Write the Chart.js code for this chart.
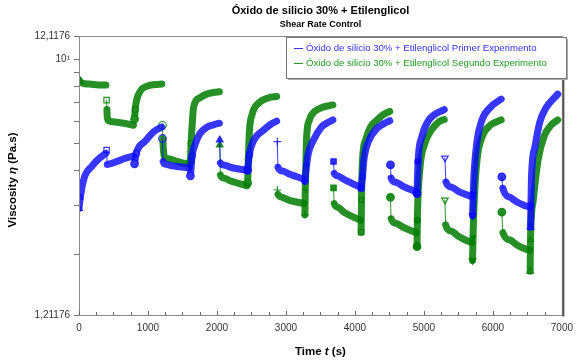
<!DOCTYPE html>
<html>
<head>
<meta charset="utf-8">
<script src="https://cdn.jsdelivr.net/npm/chart.js@4.4.1/dist/chart.umd.min.js"></script>
<style>
  html, body { margin: 0; padding: 0; background: #fff; }
</style>
</head>
<body>
<canvas id="grafico" width="580" height="363"></canvas>
<script>
// === TEXTOS ===
const titulo = "Óxido de silicio 30% + Etilenglicol";
const subtitulo = "Shear Rate Control";
const nomes = [
  "Óxido de silicio 30% + Etilenglicol Primer Experimento",
  "Óxido de silicio 30% + Etilenglicol Segundo Experimento"
];

// === EIXOS ===
const yMin = 1.21176;
const yMax = 12.1176;
const yMinorTicks = [2, 3, 4, 5, 6, 7, 8, 9, 10];
const yLabels = { "1.21176": "1,21176", "10": "10\u00B9", "12.1176": "12,1176" };
const xMax = 7000;
const xStep = 250;

// === DADOS: [tempo (s), viscosidade (Pa.s)] por etapa ===
const primer = [
  [[0,2.92],[20,3.2],[40,3.45],[90,3.85],[180,4.12],[270,4.36],[390,4.6]],
  [[400,4.73],[410,4.2],[450,4.22],[550,4.3],[650,4.4],[790,4.5]],
  [[805,4.22],[830,4.6],[870,4.85],[950,5.06],[1080,5.49],[1200,5.72]],
  [[1210,5.2],[1220,4.3],[1260,4.2],[1350,4.15],[1450,4.12],[1600,4.08]],
  [[1615,3.82],[1640,4.5],[1680,4.93],[1750,5.4],[1850,5.7],[1950,5.82],[2035,5.9]],
  [[2040,5.14],[2050,4.25],[2100,4.18],[2200,4.1],[2300,4.05],[2435,4.0]],
  [[2445,4.0],[2470,4.55],[2500,4.9],[2560,5.25],[2680,5.58],[2780,5.85],[2865,6.0]],
  [[2875,5.07],[2885,4.1],[2950,3.98],[3050,3.88],[3150,3.8],[3260,3.72]],
  [[3275,3.65],[3300,4.2],[3325,4.6],[3400,5.14],[3510,5.7],[3600,5.92],[3680,6.06]],
  [[3690,4.3],[3700,3.9],[3750,3.82],[3850,3.7],[3950,3.6],[4080,3.48]],
  [[4090,3.45],[4110,3.8],[4130,4.36],[4200,5.1],[4320,5.65],[4420,5.88],[4505,6.02]],
  [[4515,4.18],[4525,3.75],[4600,3.62],[4700,3.5],[4800,3.42],[4890,3.35]],
  [[4900,3.3],[4915,4.3],[4970,5.28],[5060,6.0],[5160,6.35],[5295,6.6]],
  [[5305,4.43],[5320,3.63],[5400,3.48],[5500,3.36],[5600,3.28],[5695,3.21]],
  [[5705,2.75],[5715,3.3],[5730,4.0],[5770,5.1],[5840,6.05],[5970,6.75],[6120,7.2]],
  [[6130,3.79],[6145,3.45],[6250,3.2],[6350,3.08],[6450,3.0],[6535,2.95]],
  [[6545,2.5],[6552,3.0],[6560,3.8],[6610,4.86],[6680,5.95],[6770,6.7],[6940,7.5]]
];

const segundo = [
  [[0,8.45],[20,8.3],[60,8.2],[150,8.15],[250,8.1],[390,8.08]],
  [[400,7.14],[405,6.6],[410,6.2],[430,6.02],[550,5.95],[650,5.9],[790,5.8]],
  [[805,6.1],[815,6.6],[830,7.05],[890,7.7],[980,8.0],[1100,8.12],[1200,8.15]],
  [[1210,5.8],[1215,5.2],[1225,4.7],[1240,4.45],[1300,4.4],[1400,4.32],[1500,4.25],[1600,4.2]],
  [[1615,4.3],[1625,5.0],[1640,5.8],[1660,6.7],[1750,7.27],[1850,7.5],[1950,7.6],[2035,7.65]],
  [[2040,4.93],[2050,3.85],[2100,3.75],[2200,3.66],[2300,3.6],[2435,3.52]],
  [[2445,3.6],[2455,4.4],[2470,5.5],[2510,6.35],[2600,6.95],[2750,7.28],[2865,7.35]],
  [[2875,3.4],[2885,3.28],[2950,3.2],[3050,3.12],[3150,3.08],[3260,3.04]],
  [[3275,2.77],[3280,3.4],[3290,4.36],[3300,5.28],[3340,6.05],[3370,6.31],[3510,6.7],[3680,6.86]],
  [[3690,3.46],[3700,3.04],[3750,2.95],[3850,2.82],[3950,2.74],[4080,2.65]],
  [[4090,2.4],[4095,3.13],[4110,4.36],[4155,5.14],[4230,5.74],[4320,6.06],[4420,6.35],[4505,6.5]],
  [[4515,3.2],[4525,2.68],[4600,2.58],[4700,2.5],[4800,2.44],[4890,2.39]],
  [[4900,2.13],[4905,2.65],[4940,4.0],[5015,5.0],[5110,5.58],[5230,6.0],[5295,6.08]],
  [[5305,3.13],[5315,2.55],[5400,2.42],[5500,2.32],[5600,2.25],[5695,2.2]],
  [[5705,1.9],[5712,2.3],[5730,3.13],[5770,4.36],[5845,5.28],[5965,5.81],[6120,6.06]],
  [[6130,2.83],[6145,2.39],[6250,2.25],[6350,2.16],[6450,2.1],[6535,2.07]],
  [[6540,1.74],[6545,2.25],[6585,3.13],[6655,4.36],[6750,5.35],[6845,5.81],[6940,6.06]]
];

// === MARCADORES POR ETAPA ===
const marcadores = ["triangle","rect","circle","circle","circle","triangle","circle","cross","cross",
                    "rect","rect","circle","circle","triangle","triangle","circle","triangle"];
const preenchidos = [false,false,false,false,false,true,false,false,false,
                     true,false,true,true,false,true,true,false];
const rotacoes = [0,0,0,0,0,0,0,0,0,0,0,0,0,180,180,0,0];

const cores = ["rgba(10,10,255,0.82)", "rgba(0,125,0,0.85)"];

// === MONTA DATASET COM INTERRUPÇÕES ENTRE ETAPAS ===
function montarSerie(etapas, nome, cor, ordem) {
  const data = [], estilo = [], raio = [], rot = [], fundo = [];
  const finos = new Set();
  etapas.forEach((pontos, k) => {
    pontos.forEach((p, i) => {
      if (i === 0 && k % 2 === 1) finos.add(data.length);
      data.push({ x: p[0], y: p[1] });
      estilo.push(marcadores[k]);
      raio.push(i === 0 ? 3.8 : (k % 2 === 0 && i < 2 ? 3 : 0));
      rot.push(rotacoes[k]);
      fundo.push(preenchidos[k] ? cor : "rgba(255,255,255,0)");
    });
    const ultimo = pontos[pontos.length - 1][0];
    data.push({ x: ultimo + 1, y: null });
    estilo.push("circle"); raio.push(0); rot.push(0); fundo.push(cor);
  });
  return {
    label: nome,
    order: ordem,
    data,
    borderColor: cor,
    backgroundColor: cor,
    borderWidth: 7,
    borderCapStyle: "round",
    borderJoinStyle: "round",
    cubicInterpolationMode: "monotone",
    spanGaps: false,
    pointStyle: estilo,
    pointRadius: raio,
    pointRotation: rot,
    pointBackgroundColor: fundo,
    pointBorderColor: cor,
    pointBorderWidth: 1.2,
    segment: {
      borderWidth: ctx => finos.has(ctx.p0DataIndex) ? 1 : undefined
    }
  };
}

const fonte = "'Liberation Sans', Arial, sans-serif";

// === DESENHO DE TÍTULOS, MOLDURA E LEGENDA ===
const extras = {
  id: "extras",
  afterDraw(chart) {
    const { ctx, chartArea: a } = chart;
    const cx = (a.left + a.right) / 2;
    ctx.save();

    // moldura
    ctx.strokeStyle = "#8a8a8a";
    ctx.lineWidth = 1;
    ctx.strokeRect(a.left + 0.5, a.top + 0.5, a.right - a.left, a.bottom - a.top);
    ctx.strokeStyle = "#555";
    ctx.lineWidth = 2;
    ctx.beginPath();
    ctx.moveTo(a.right + 1.5, a.top + 1);
    ctx.lineTo(a.right + 1.5, a.bottom + 1.5);
    ctx.stroke();

    // ticks do eixo x para dentro
    const sx = chart.scales.x;
    ctx.strokeStyle = "#666";
    ctx.lineWidth = 1;
    for (let v = 0; v <= xMax; v += xStep) {
      const px = Math.round(sx.getPixelForValue(v)) + 0.5;
      ctx.beginPath();
      ctx.moveTo(px, a.bottom);
      ctx.lineTo(px, a.bottom - (v % 1000 === 0 ? 4 : 3));
      ctx.stroke();
    }

    // títulos
    ctx.fillStyle = "#000";
    ctx.textAlign = "center";
    ctx.textBaseline = "middle";
    ctx.font = "bold 11px " + fonte;
    ctx.fillText(titulo, cx, 11);
    ctx.font = "bold 9px " + fonte;
    ctx.fillText(subtitulo, cx, 25);

    // título eixo x
    const fx = "bold 11.5px " + fonte, fxi = "italic bold 11.5px " + fonte;
    ctx.font = fx;
    const p1 = "Time ", p2 = "t", p3 = " (s)";
    const w1 = ctx.measureText(p1).width, w3 = ctx.measureText(p3).width;
    ctx.font = fxi;
    const w2 = ctx.measureText(p2).width;
    let x0 = cx - (w1 + w2 + w3) / 2;
    ctx.textAlign = "left";
    ctx.font = fx;
    ctx.fillText(p1, x0, 352);
    ctx.font = fxi;
    ctx.fillText(p2, x0 + w1, 352);
    ctx.font = fx;
    ctx.fillText(p3, x0 + w1 + w2, 352);

    // título eixo y
    ctx.save();
    ctx.translate(13, 180);
    ctx.rotate(-Math.PI / 2);
    const q1 = "Viscosity ", q2 = "\u03B7", q3 = " (Pa.s)";
    ctx.font = fx;
    const v1 = ctx.measureText(q1).width, v3 = ctx.measureText(q3).width;
    ctx.font = fxi;
    const v2 = ctx.measureText(q2).width;
    x0 = -(v1 + v2 + v3) / 2;
    ctx.font = fx;
    ctx.fillText(q1, x0, 0);
    ctx.font = fxi;
    ctx.fillText(q2, x0 + v1, 0);
    ctx.font = fx;
    ctx.fillText(q3, x0 + v1 + v2, 0);
    ctx.restore();

    // legenda
    const lx = 286, ly = 37, lw = 280, lh = 41;
    ctx.fillStyle = "#fff";
    ctx.fillRect(lx, ly, lw, lh);
    ctx.strokeStyle = "#777";
    ctx.lineWidth = 1;
    ctx.strokeRect(lx + 0.5, ly + 0.5, lw, lh);
    ctx.strokeStyle = "#aaa";
    ctx.beginPath();
    ctx.moveTo(lx + lw + 1.5, ly + 2);
    ctx.lineTo(lx + lw + 1.5, ly + lh + 1.5);
    ctx.lineTo(lx + 2, ly + lh + 1.5);
    ctx.stroke();
    ctx.font = "9.6px " + fonte;
    ctx.textAlign = "left";
    ctx.textBaseline = "middle";
    const corTexto = ["#3333ff", "#229922"];
    nomes.forEach((n, i) => {
      const yy = ly + 11 + i * 15;
      ctx.strokeStyle = corTexto[i];
      ctx.lineWidth = 1;
      ctx.beginPath();
      ctx.moveTo(lx + 8, yy + 0.5);
      ctx.lineTo(lx + 17, yy + 0.5);
      ctx.stroke();
      ctx.fillStyle = corTexto[i];
      ctx.fillText(n, lx + 20, yy);
    });
    ctx.restore();
  }
};

new Chart(document.getElementById("grafico"), {
  type: "line",
  data: {
    datasets: [
      montarSerie(primer, nomes[0], cores[0], 1),
      montarSerie(segundo, nomes[1], cores[1], 2)
    ]
  },
  options: {
    responsive: false,
    animation: false,
    devicePixelRatio: 1,
    layout: { padding: { top: 36, right: 11, left: 0, bottom: 0 } },
    plugins: {
      legend: { display: false },
      title: { display: false },
      tooltip: { enabled: false }
    },
    scales: {
      x: {
        type: "linear",
        min: 0,
        max: xMax,
        afterFit: s => { s.height = 48; },
        ticks: {
          stepSize: xStep,
          autoSkip: false,
          maxRotation: 0,
          padding: 7,
          color: "#333",
          font: { size: 10, family: fonte },
          callback: v => (v % 1000 === 0 ? String(v) : "")
        },
        grid: { drawOnChartArea: false, drawTicks: false },
        border: { color: "#8a8a8a" }
      },
      y: {
        type: "logarithmic",
        min: yMin,
        max: yMax,
        afterFit: s => { s.width = 79; },
        afterBuildTicks: s => {
          s.ticks = [yMin, ...yMinorTicks, yMax].map(v => ({ value: v }));
        },
        ticks: {
          autoSkip: false,
          padding: 4,
          color: "#333",
          font: { size: 10, family: fonte },
          callback: v => yLabels[String(v)] || ""
        },
        grid: { drawOnChartArea: false, tickLength: 5, tickColor: "#777" },
        border: { color: "#8a8a8a" }
      }
    }
  },
  plugins: [extras]
});
</script>
</body>
</html>
